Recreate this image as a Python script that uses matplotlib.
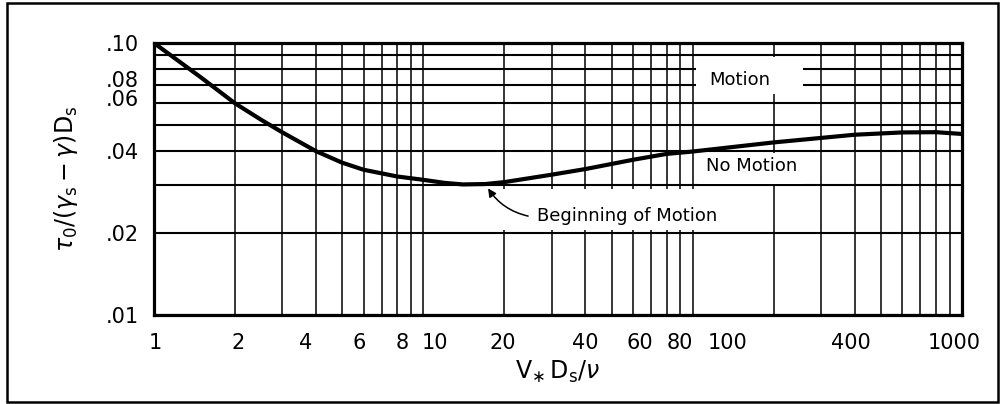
import matplotlib
matplotlib.use('Agg')
import matplotlib.pyplot as plt
from matplotlib.patches import Rectangle
from matplotlib.ticker import FixedLocator, FixedFormatter, NullFormatter
from matplotlib.transforms import ScaledTranslation

# curva de inicio de movimiento
reynolds = [1, 1.5, 2, 2.5, 3, 4, 5, 6, 8, 10, 12, 14, 17, 20, 30, 40, 60, 80, 100, 200, 400, 600, 800, 1000]
shields = [0.100, 0.0745, 0.060, 0.0522, 0.0469, 0.040, 0.0363, 0.0342, 0.0323, 0.0314, 0.0306, 0.0302,
           0.0303, 0.0308, 0.0328, 0.0344, 0.0372, 0.0391, 0.0399, 0.0431, 0.0460, 0.0469, 0.0470, 0.0463]

x_grid = [m * 10 ** e for e in range(3) for m in range(1, 10)] + [1000]
y_grid = [0.01, 0.02, 0.03, 0.04, 0.05, 0.06, 0.07, 0.08, 0.09, 0.10]
x_labels = [1, 2, 4, 6, 8, 10, 20, 40, 60, 80, 100, 400, 1000]
y_labels = [0.01, 0.02, 0.04, 0.06, 0.08, 0.10]

# desplazamientos (px) de las etiquetas, como estan rotuladas a mano en el original
x_label_shift = {'1': 1, '2': 3, '4': -10, '6': -4, '8': 5, '10': 12, '20': -2,
                 '60': 7, '80': 13, '100': 35, '400': -4, '1000': -8}
y_label_shift = {'.08': -7, '.06': 4}

plt.rcParams['font.family'] = 'DejaVu Sans'
plt.rcParams['mathtext.fontset'] = 'dejavusans'

fig = plt.figure(figsize=(10.01, 4.04), dpi=100)
fig.patches.append(Rectangle((0.007, 0.005), 0.990, 0.988, transform=fig.transFigure,
                             fill=False, edgecolor='black', linewidth=1.8))
ax = fig.add_axes([0.1538, 0.2203, 0.8072, 0.6733])

ax.set_xscale('log')
ax.set_yscale('log')
ax.set_xlim(1, 1000)
ax.set_ylim(0.01, 0.10)

ax.xaxis.set_major_locator(FixedLocator(x_labels))
ax.xaxis.set_major_formatter(FixedFormatter([str(v) for v in x_labels]))
ax.xaxis.set_minor_locator(FixedLocator(x_grid))
ax.xaxis.set_minor_formatter(NullFormatter())
ax.yaxis.set_major_locator(FixedLocator(y_labels))
ax.yaxis.set_major_formatter(FixedFormatter(['.%02d' % round(v * 100) for v in y_labels]))
ax.yaxis.set_minor_locator(FixedLocator(y_grid))
ax.yaxis.set_minor_formatter(NullFormatter())
ax.tick_params(which='both', length=0, labelsize=15)
ax.tick_params(axis='x', pad=13)
ax.tick_params(axis='y', pad=11)

ax.set_axisbelow(True)
ax.xaxis.grid(True, which='both', color='black', linewidth=1.1)
ax.yaxis.grid(True, which='both', color='black', linewidth=1.5)
for s in ax.spines.values():
    s.set_linewidth(2.3)

# huecos blancos en la reticula detras de los textos
for (x0, x1, y0, y1) in [(103, 257, 0.0651, 0.089), (106, 257, 0.0302, 0.0394), (19.3, 106, 0.0205, 0.0291)]:
    ax.add_patch(Rectangle((x0, y0), x1 - x0, y1 - y0, facecolor='white', edgecolor='none', zorder=1))

ax.plot(reynolds, shields, color='black', linewidth=3.0, solid_capstyle='butt', zorder=3)

ax.text(150, 0.0733, 'Motion', fontsize=13, ha='center', va='center', zorder=4)
ax.text(166, 0.0352, 'No Motion', fontsize=13, ha='center', va='center', zorder=4)
ax.text(57, 0.0231, 'Beginning of Motion', fontsize=13, ha='center', va='center', zorder=4)
ax.annotate('', xy=(17.4, 0.0292), xytext=(24.5, 0.0231),
            arrowprops=dict(arrowstyle='-|>', color='black', lw=1.1, mutation_scale=12,
                            shrinkA=0, shrinkB=0, connectionstyle='arc3,rad=-0.2'), zorder=5)

ax.set_xlabel(r'$\mathrm{V}_{\ast}\,\mathrm{D}_\mathrm{s}/\nu$', fontsize=17, labelpad=4)
ax.set_ylabel(r'$\tau_\mathrm{0}/(\gamma_\mathrm{s}-\gamma)\mathrm{D}_\mathrm{s}$', fontsize=17, labelpad=18)

for lab in ax.get_xticklabels():
    dx = x_label_shift.get(lab.get_text(), 0)
    lab.set_transform(lab.get_transform() + ScaledTranslation(dx * 0.72 / 72, 0, fig.dpi_scale_trans))
for lab in ax.get_yticklabels():
    dy = y_label_shift.get(lab.get_text(), 0)
    lab.set_transform(lab.get_transform() + ScaledTranslation(0, dy / 72, fig.dpi_scale_trans))

fig.savefig('out.png', dpi=100)
